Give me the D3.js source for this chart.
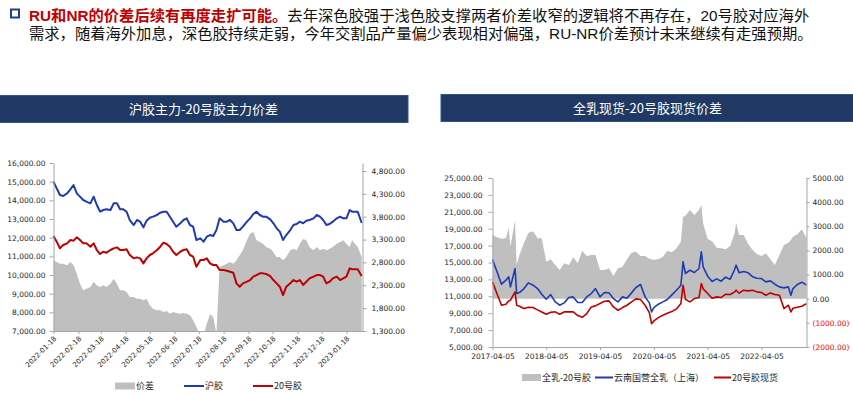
<!DOCTYPE html>
<html><head><meta charset="utf-8">
<script src="https://cdn.jsdelivr.net/npm/d3@7"></script>
<style>body{margin:0;background:#fff}svg{display:block}</style>
</head><body>
<svg id="c" width="853" height="394"></svg>
<script>
// ---------- Left chart data ----------
const leftDates=["2022-01-18","2022-01-22","2022-01-26","2022-01-30","2022-02-04","2022-02-08","2022-02-12","2022-02-16","2022-02-20","2022-02-24","2022-02-28","2022-03-05","2022-03-09","2022-03-13","2022-03-17","2022-03-21","2022-03-25","2022-03-30","2022-04-03","2022-04-07","2022-04-11","2022-04-15","2022-04-19","2022-04-23","2022-04-28","2022-05-02","2022-05-06","2022-05-10","2022-05-14","2022-05-18","2022-05-22","2022-05-27","2022-05-31","2022-06-04","2022-06-08","2022-06-12","2022-06-16","2022-06-20","2022-06-25","2022-06-29","2022-07-03","2022-07-07","2022-07-11","2022-07-15","2022-07-20","2022-07-24","2022-07-28","2022-08-01","2022-08-05","2022-08-09","2022-08-13","2022-08-18","2022-08-22","2022-08-26","2022-08-30","2022-09-03","2022-09-07","2022-09-11","2022-09-16","2022-09-20","2022-09-24","2022-09-28","2022-10-02","2022-10-06","2022-10-10","2022-10-15","2022-10-19","2022-10-23","2022-10-27","2022-10-31","2022-11-04","2022-11-09","2022-11-13","2022-11-17","2022-11-21","2022-11-25","2022-11-29","2022-12-03","2022-12-08","2022-12-12","2022-12-16","2022-12-20","2022-12-24","2022-12-28","2023-01-01","2023-01-06","2023-01-10","2023-01-14","2023-01-18","2023-01-22","2023-01-25","2023-02-01","2023-02-06"];
const huJiao=[15000,14643,14285,14232,14375,14589,14821,14375,14196,14018,
13928,13839,14196,13750,13392,13482,13518,13482,13839,13839,
13518,13518,13392,12946,12678,12946,12857,12553,12910,13071,
13125,13214,13339,13392,13392,13125,12857,12589,12768,12946,
13035,12678,12589,11875,11964,11785,12053,12142,12089,12410,
13035,12857,12857,12946,12768,12410,12410,12589,12857,13035,
13268,13392,13214,13125,13125,12982,12768,12500,12321,11875,
12142,12410,12678,12732,12857,12768,12910,12946,13035,13214,
13125,12946,12678,12732,12857,13035,13125,13035,13035,13482,
13392,13392,12786];
const nr20=[12089,11785,11428,11606,11696,11874,11839,12017,11874,11696,
11696,11517,11696,11339,11124,11249,11196,11339,11428,11481,
11339,11339,11374,11071,10892,10946,10892,10624,10892,11071,
11160,11339,11517,11731,11660,11517,11249,11071,11249,11339,
11374,11071,10981,10446,10803,10803,10892,10624,10535,10535,
10267,10267,10231,10178,10124,9553,9374,9553,9642,9731,
9910,9999,10088,10088,10053,9945,9731,9553,9374,8927,
9374,9553,9731,9642,9731,9463,9642,9820,9910,9999,
9999,9910,9553,9642,9820,9910,9731,9820,9910,10356,
10307,10307,9947];
const spreadL=[2845,2809,2773,2773,2736,2809,2736,2554,2335,2189,
2226,2262,2372,2299,2262,2299,2262,2335,2445,2335,
2189,2189,2153,2044,2044,2007,2007,1971,2007,1861,
1788,1752,1752,1715,1737,1679,1715,1693,1679,1693,
1679,1643,1533,1387,1200,1200,1460,1664,1606,1250,
2700,2736,2773,2809,2773,2845,2955,3064,3283,3429,
3465,3283,3246,3210,3137,3101,3028,2918,2918,2845,
2918,3064,3101,3064,3210,3312,3283,3137,3064,3137,
3064,3101,3064,3101,3137,3210,3246,3283,3210,3137,
3284,3137,2918];
const leftTicks=["2022-01-18","2022-02-18","2022-03-18","2022-04-18","2022-05-18","2022-06-18","2022-07-18","2022-08-18","2022-09-18","2022-10-18","2022-11-18","2022-12-18","2023-01-18"];
const leftYTicks=[7000,8000,9000,10000,11000,12000,13000,14000,15000,16000];
const leftY2Ticks=[1300,1800,2300,2800,3300,3800,4300,4800];

// ---------- Right chart data ----------
const rDates=["2017-04-05","2017-05-05","2017-06-05","2017-07-05","2017-07-24","2017-08-05","2017-09-05","2017-09-16","2017-10-05","2017-11-05","2017-12-05",
"2018-01-05","2018-02-05","2018-03-05","2018-04-05","2018-05-05","2018-06-05","2018-07-05","2018-08-05","2018-09-05","2018-10-05","2018-11-05","2018-12-05",
"2019-01-05","2019-02-05","2019-03-05","2019-04-05","2019-05-05","2019-06-05","2019-07-05","2019-08-05","2019-09-05","2019-10-05","2019-11-05","2019-12-05",
"2020-01-05","2020-02-05","2020-03-05","2020-03-20","2020-04-05","2020-05-05","2020-06-05","2020-07-05","2020-08-05","2020-09-05","2020-10-05","2020-10-20","2020-11-05","2020-12-05",
"2021-01-05","2021-02-05","2021-02-21","2021-03-05","2021-04-05","2021-05-05","2021-06-05","2021-07-05","2021-08-05","2021-09-05","2021-10-05","2021-10-15","2021-11-05","2021-12-05",
"2022-01-05","2022-02-05","2022-03-05","2022-04-05","2022-05-05","2022-06-05","2022-07-05","2022-08-05","2022-09-05","2022-10-05","2022-10-22","2022-11-05","2022-12-05",
"2023-01-05","2023-02-05"];
const quanRu=[15357,13934,12433,12907,13302,12116,14290,11326,11445,11919,12591,
12314,11919,11247,10654,11207,10338,9943,10220,10852,10931,10259,10259,
10931,11326,11919,10931,11445,11405,10733,10338,10931,10773,11405,12037,
12393,10931,10220,9152,9666,10061,10338,10615,11168,11721,12314,15080,13697,14093,
13816,14290,16266,14488,13381,12749,13065,12788,13263,13026,14172,14685,13776,13934,
13776,13302,13144,13104,12709,12828,12433,12116,11998,12116,11128,11919,12393,
12670,12314];
const nr20Spot=[12709,11326,9943,10061,10457,10536,11524,9943,9824,9547,9706,
9666,9390,9152,8876,9113,9152,8876,9152,9152,9152,8718,8520,
8955,9745,9864,10140,10417,10457,9745,9350,9666,9943,10338,10694,
10615,9943,9073,7769,8085,8480,8757,8994,9192,9508,10140,12314,10654,10338,
10733,10852,12512,11879,11326,10773,10931,10852,11247,11207,11524,11721,11366,11721,
11642,11721,11524,11445,11128,11405,11207,11128,9547,9943,9152,9587,9706,
9824,10140];
const spreadR=[2625,2542,2487,2500,2915,2155,3260,1396,1810,2321,2735,
2790,2500,2500,1534,1630,1396,1189,1465,1396,1713,1465,1989,
1768,1810,1810,1189,1189,1258,940,1258,1327,1630,1907,1948,
1768,1768,1658,1630,1603,1644,1741,1989,1920,2086,2362,3398,3439,3674,
3467,3674,3881,3122,2473,2376,2114,2086,2045,2183,2708,3122,2638,2638,
2266,2017,1851,1768,1879,1630,1396,1810,2224,2321,2431,2569,2666,
2873,2500];
const rightTicks=["2017-04-05","2018-04-05","2019-04-05","2020-04-05","2021-04-05","2022-04-05"];
const rightYTicks=[5000,7000,9000,11000,13000,15000,17000,19000,21000,23000,25000];
const rightY2Ticks=[-2000,-1000,0,1000,2000,3000,4000,5000];

// ---------- Drawing ----------
const svg=d3.select("#c");
const parse=d3.timeParse("%Y-%m-%d");
const NUMFONT="'DejaVu Sans', sans-serif";
const CJK="'Noto Sans CJK SC','Noto Sans',sans-serif";
const HEADFONT="'Liberation Sans','Noto Sans CJK SC',sans-serif";
const AXC="#a6a6a6", TXT="#262626";
const BLUE="#1f3bb3", RED="#c00000", GRAY="#bfbfbf";

// header
svg.append("rect").attr("x",11).attr("y",9.5).attr("width",8).attr("height",8)
  .attr("fill","none").attr("stroke","#203f8f").attr("stroke-width",2);
const redPart=svg.append("text").attr("x",29).attr("y",20.5).attr("font-family",HEADFONT).attr("font-size",15.3)
  .attr("fill","#c00000").attr("font-weight","bold").text("RU和NR的价差后续有再度走扩可能。");
const redW=redPart.node().getComputedTextLength();
svg.append("text").attr("x",29+redW).attr("y",20.5).attr("font-family",HEADFONT).attr("font-size",15.3).attr("fill","#111")
  .text("去年深色胶强于浅色胶支撑两者价差收窄的逻辑将不再存在，20号胶对应海外");
svg.append("text").attr("x",29).attr("y",39).attr("font-family",HEADFONT).attr("font-size",15.3).attr("fill","#111")
  .text("需求，随着海外加息，深色胶持续走弱，今年交割品产量偏少表现相对偏强，RU-NR价差预计未来继续有走强预期。");

function titleBox(x0,x1,y0,y1,label){
  svg.append("rect").attr("x",x0).attr("y",y0).attr("width",x1-x0).attr("height",y1-y0)
    .attr("fill","#1f3864").attr("stroke","#2f5597").attr("stroke-width",1);
  svg.append("text").attr("x",(x0+x1)/2).attr("y",(y0+y1)/2+4.5).attr("text-anchor","middle")
    .attr("font-family",CJK).attr("font-size",13).attr("fill","#fff").text(label);
}
titleBox(-1,408,95.5,122.5,"沪胶主力-20号胶主力价差");
titleBox(441,854,94.5,121.5,"全乳现货-20号胶现货价差");

function styleAxis(g){
  g.select(".domain").attr("stroke",AXC);
  g.selectAll(".tick line").attr("stroke",AXC);
  g.selectAll("text").attr("fill",TXT).attr("font-family",NUMFONT).attr("font-size",7.5);
}

// ===== Left chart =====
(function(){
  const L=53.5,R=362.5,T=163,B=331;
  const x=d3.scaleTime().domain([parse("2022-01-18"),parse("2023-02-07")]).range([L,R]);
  const y=d3.scaleLinear().domain([7000,16000]).range([B,T]);
  const y2=d3.scaleLinear().domain([1300,4975]).range([B,T]);
  const data=leftDates.map((d,i)=>({date:parse(d),hu:huJiao[i],nr:nr20[i],sp:spreadL[i]}));
  svg.append("clipPath").attr("id","clipL").append("rect").attr("x",L).attr("y",T).attr("width",R-L).attr("height",B-T);
  svg.append("path").datum(data).attr("clip-path","url(#clipL)").attr("fill",GRAY)
    .attr("d",d3.area().x(d=>x(d.date)).y0(B).y1(d=>y2(d.sp)));
  svg.append("path").datum(data).attr("fill","none").attr("stroke",BLUE).attr("stroke-width",2).attr("stroke-linejoin","round")
    .attr("d",d3.line().x(d=>x(d.date)).y(d=>y(d.hu)));
  svg.append("path").datum(data).attr("fill","none").attr("stroke",RED).attr("stroke-width",2).attr("stroke-linejoin","round")
    .attr("d",d3.line().x(d=>x(d.date)).y(d=>y(d.nr)));
  const ga=svg.append("g").attr("transform",`translate(${L},0)`)
    .call(d3.axisLeft(y).tickValues(leftYTicks).tickFormat(d3.format(",.2f")).tickSize(4).tickPadding(4).tickSizeOuter(0));
  styleAxis(ga);
  const gb=svg.append("g").attr("transform",`translate(${R},0)`)
    .call(d3.axisRight(y2).tickValues(leftY2Ticks).tickFormat(d3.format(",.2f")).tickSize(4).tickPadding(5).tickSizeOuter(0));
  styleAxis(gb);
  const gx=svg.append("g").attr("transform",`translate(0,${B})`)
    .call(d3.axisBottom(x).tickValues(leftTicks.map(parse)).tickFormat(d3.timeFormat("%Y-%m-%d")).tickSize(3).tickSizeOuter(0));
  styleAxis(gx);
  gx.selectAll("text").attr("font-size",7).attr("x",0).attr("y",0).attr("dy",0)
    .attr("transform","translate(3,8) rotate(-45)").style("text-anchor","end");
  // legend
  const ly=386;
  svg.append("rect").attr("x",115).attr("y",ly-3.5).attr("width",20).attr("height",7).attr("fill",GRAY);
  svg.append("text").attr("x",136).attr("y",ly+3.2).attr("font-family",CJK).attr("font-size",9).attr("fill",TXT).text("价差");
  svg.append("line").attr("x1",184).attr("x2",204).attr("y1",ly).attr("y2",ly).attr("stroke",BLUE).attr("stroke-width",2);
  svg.append("text").attr("x",205).attr("y",ly+3.2).attr("font-family",CJK).attr("font-size",9).attr("fill",TXT).text("沪胶");
  svg.append("line").attr("x1",253).attr("x2",273).attr("y1",ly).attr("y2",ly).attr("stroke",RED).attr("stroke-width",2);
  svg.append("text").attr("x",274).attr("y",ly+3.2).attr("font-family",CJK).attr("font-size",9).attr("fill",TXT).text("20号胶");
})();

// ===== Right chart =====
(function(){
  const L=492.5,R=806.5,T=178,B=347;
  const x=d3.scaleTime().domain([parse("2017-04-05"),parse("2023-02-05")]).range([L,R]);
  const y=d3.scaleLinear().domain([5000,25000]).range([B,T]);
  const y2=d3.scaleLinear().domain([-2000,5000]).range([B,T]);
  const data=rDates.map((d,i)=>({date:parse(d),qr:quanRu[i],nr:nr20Spot[i],sp:spreadR[i]}));
  svg.append("path").datum(data).attr("fill",GRAY)
    .attr("d",d3.area().x(d=>x(d.date)).y0(y2(0)).y1(d=>y2(d.sp)));
  svg.append("path").datum(data).attr("fill","none").attr("stroke",BLUE).attr("stroke-width",1.6).attr("stroke-linejoin","round")
    .attr("d",d3.line().x(d=>x(d.date)).y(d=>y(d.qr)));
  svg.append("path").datum(data).attr("fill","none").attr("stroke",RED).attr("stroke-width",1.6).attr("stroke-linejoin","round")
    .attr("d",d3.line().x(d=>x(d.date)).y(d=>y(d.nr)));
  const ga=svg.append("g").attr("transform",`translate(${L},0)`)
    .call(d3.axisLeft(y).tickValues(rightYTicks).tickFormat(d3.format(",.2f")).tickSize(4).tickPadding(6).tickSizeOuter(0));
  styleAxis(ga);
  const gb=svg.append("g").attr("transform",`translate(${R},0)`)
    .call(d3.axisRight(y2).tickValues(rightY2Ticks).tickFormat(v=>v<0?`(${d3.format(".2f")(-v)})`:d3.format(".2f")(v)).tickSize(3).tickPadding(3).tickSizeOuter(0));
  styleAxis(gb);
  gb.selectAll(".tick text").attr("fill",d=>d<0?"#ff0000":TXT);
  const gx=svg.append("g").attr("transform",`translate(0,${B})`)
    .call(d3.axisBottom(x).tickValues(rightTicks.map(parse)).tickFormat(d3.timeFormat("%Y-%m-%d")).tickSize(3).tickPadding(4).tickSizeOuter(0));
  styleAxis(gx);
  const ly=377.5;
  svg.append("rect").attr("x",522).attr("y",ly-3.5).attr("width",19).attr("height",7).attr("fill",GRAY);
  svg.append("text").attr("x",542).attr("y",ly+3.2).attr("font-family",CJK).attr("font-size",9).attr("fill",TXT).text("全乳-20号胶");
  svg.append("line").attr("x1",595).attr("x2",613).attr("y1",ly).attr("y2",ly).attr("stroke",BLUE).attr("stroke-width",2);
  svg.append("text").attr("x",614).attr("y",ly+3.2).attr("font-family",CJK).attr("font-size",9).attr("fill",TXT).text("云南国营全乳（上海）");
  svg.append("line").attr("x1",714).attr("x2",731).attr("y1",ly).attr("y2",ly).attr("stroke",RED).attr("stroke-width",2);
  svg.append("text").attr("x",732).attr("y",ly+3.2).attr("font-family",CJK).attr("font-size",9).attr("fill",TXT).text("20号胶现货");
})();
</script>
</body></html>
